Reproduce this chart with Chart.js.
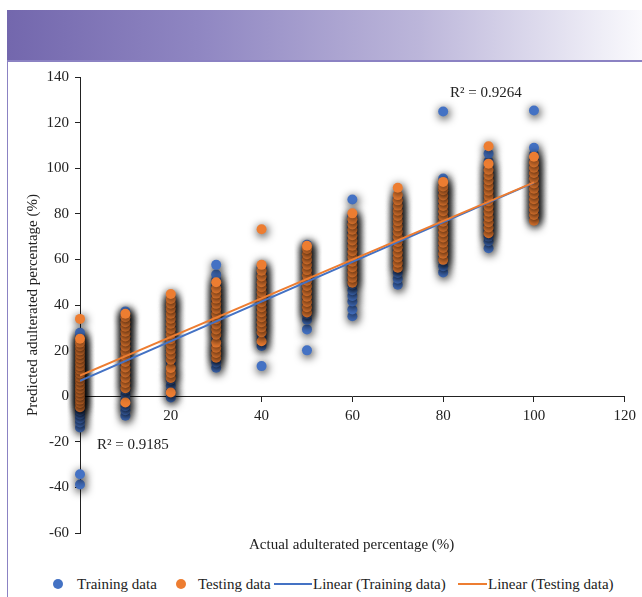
<!DOCTYPE html>
<html>
<head>
<meta charset="utf-8">
<script src="https://cdn.jsdelivr.net/npm/chart.js@4.4.1/dist/chart.umd.min.js"></script>
<style>
  body { margin: 0; width: 642px; height: 597px; position: relative; overflow: hidden; background: #fff;
         font-family: "Liberation Serif", "DejaVu Serif", serif; color: #222; }
  .abs { position: absolute; }
  #banner { left: 7px; top: 10px; width: 635px; height: 50px;
            background: linear-gradient(to right, #7367ad 0%, #8f86c2 30%, #bcb6da 65%, #fafafd 100%); }
  #rule-top { left: 7px; top: 60px; width: 635px; height: 2px; background: #8b82c3; }
  #rule-left { left: 7px; top: 60px; width: 1px; height: 537px; background: #8b82c3; }
  #wrap { left: 8px; top: 62px; width: 634px; height: 503px; }
  .txt { font-size: 15px; white-space: nowrap; line-height: 1; }
  .dot { width: 10px; height: 10px; border-radius: 50%; }
  .bar { height: 2px; }
</style>
</head>
<body>
<div id="banner" class="abs"></div>
<div id="rule-top" class="abs"></div>
<div id="rule-left" class="abs"></div>
<div id="wrap" class="abs"><canvas id="grafico"></canvas></div>

<div class="abs txt" style="left:450px; top:85px;">R² = 0.9264</div>
<div class="abs txt" style="left:97px; top:437px;">R² = 0.9185</div>
<div class="abs txt" style="left:249px; top:537px;">Actual adulterated percentage (%)</div>

<!-- legenda -->
<div class="abs dot" style="left:53px; top:579px; background:#4472c4;"></div>
<div class="abs txt" style="left:77px; top:577px;">Training data</div>
<div class="abs dot" style="left:176px; top:579px; background:#ed7d31;"></div>
<div class="abs txt" style="left:198px; top:577px;">Testing data</div>
<div class="abs bar" style="left:274px; top:583px; width:38px; background:#4472c4;"></div>
<div class="abs txt" style="left:313px; top:577px;">Linear (Training data)</div>
<div class="abs bar" style="left:458px; top:583px; width:29px; background:#ed7d31;"></div>
<div class="abs txt" style="left:488px; top:577px;">Linear (Testing data)</div>

<script>
// níveis reais de adulteração (eixo x)
const levels = [0, 10, 20, 30, 40, 50, 60, 70, 80, 90, 100];

// previsões do conjunto de treino, uma lista por nível
const train0 = [-38.7, -34.2, -13.7, -11.5, -9.8, -8, -6.5, -5, -3.6, -2.4, -1.1, 0, 1.2, 2.5, 3.7, 5, 6.4, 7.5, 8.8, 10.2, 11.6, 12.8, 14, 15.5, 17, 18.4, 20, 21.6, 23.1, 24.8, 26.4, 27.8];
const train10 = [-8.6, -6.2, -4.4, -2, 0.5, 2.8, 5.1, 7.3, 9.6, 11.8, 14, 16.3, 18.5, 20.7, 23, 25.2, 27.4, 29.6, 31.8, 34, 35.7, 37.2];
const train20 = [-0.6, 2, 4.6, 7.2, 9.8, 12.4, 15, 17.6, 20.2, 22.8, 25.4, 28, 30.6, 33.2, 35.8, 38.4, 40.5, 42.4];
const train30 = [12.5, 14.8, 17.2, 19.5, 21.8, 24, 26.3, 28.6, 30.8, 33, 35.3, 37.6, 39.8, 42, 44.3, 46.6, 48.8, 51, 53.4, 57.6];
const train40 = [13.2, 22, 24.8, 27, 29.3, 31.5, 33.8, 36, 38.3, 40.5, 42.8, 45, 47.3, 49.5, 51.8, 54, 56.5];
const train50 = [20.1, 29.3, 33.5, 36, 38.3, 40.6, 43, 45.3, 47.6, 50, 52.3, 54.6, 57, 59.3, 61.6, 64, 66.4];
const train60 = [35.1, 38, 41.5, 44, 46.5, 49, 51.5, 54, 56.5, 59, 61.5, 64, 66.5, 69, 71.5, 74, 76.5, 79, 86.3];
const train70 = [48.9, 51.5, 54, 56.5, 59, 61.5, 64, 66.5, 69, 71.5, 74, 76.5, 79, 81.5, 84, 86.9];
const train80 = [54.3, 57, 59.5, 62, 64.5, 67, 69.5, 72, 74.5, 77, 79.5, 82, 84.5, 87, 89.5, 92, 95.5, 124.9];
const train90 = [64.9, 68, 70, 72.5, 75, 77.5, 80, 82.5, 85, 87.5, 90, 92.5, 95, 97.5, 100, 103, 106.4];
const train100 = [78.8, 81, 83.5, 86, 88.5, 91, 93.5, 96, 98.5, 101, 103.5, 106, 109, 125.3];

// previsões do conjunto de teste
const test0 = [-4.8, -3, -1.5, 0.2, 1.8, 3.4, 5, 6.8, 8.3, 10, 11.6, 13.2, 15, 16.8, 18.5, 20.1, 21.9, 23.5, 25.2, 33.9];
const test10 = [-2.8, 3.5, 5.8, 8, 10.4, 12.6, 15, 17.4, 19.6, 21.8, 24, 26.2, 28.3, 30.5, 32.4, 34.6, 36.2];
const test20 = [1.6, 8, 10.2, 12.4, 16, 18.3, 20.5, 22.8, 25, 27.3, 29.5, 31.8, 34, 36.2, 38.5, 40.6, 42.6, 44.8];
const test30 = [16.9, 19, 21.3, 23.5, 27, 29.3, 31.5, 33.8, 36, 38.3, 40.5, 42.8, 45, 47.2, 50];
const test40 = [24.1, 28, 30.2, 32.4, 34.6, 36.8, 39, 41.2, 43.4, 45.6, 47.8, 50, 52.5, 55, 57.6, 73.2];
const test50 = [36.7, 39, 41.3, 43.6, 46, 48.3, 50.6, 53, 55.3, 57.6, 60, 62.3, 64.6, 66];
const test60 = [49.8, 52, 54.3, 56.6, 59, 61.3, 63.6, 66, 68.3, 70.6, 73, 75.3, 77.6, 80.2];
const test70 = [56.3, 58.5, 60.8, 63, 65.3, 67.6, 69.9, 72.2, 74.5, 76.8, 79, 81.3, 83.6, 85.9, 88.2, 91.4];
const test80 = [59.8, 62.5, 65, 67.3, 69.6, 71.9, 74.2, 76.5, 78.8, 81.1, 83.4, 85.7, 88, 90.3, 92, 94];
const test90 = [71.5, 74, 76.3, 78.6, 80.9, 83.2, 85.5, 87.8, 90.1, 92.4, 94.7, 97, 99.3, 102, 109.6];
const test100 = [77, 79.5, 81.8, 84.1, 86.4, 88.7, 91, 93.3, 95.6, 97.9, 100.2, 102.5, 105];

// retas de tendência (x = 0 e x = 100)
const fitX = [0, 100];
const trainFit = [6.7, 93.7];
const testFit = [9.0, 93.8];

const trainGroups = [train0, train10, train20, train30, train40, train50, train60, train70, train80, train90, train100];
const testGroups = [test0, test10, test20, test30, test40, test50, test60, test70, test80, test90, test100];

function montarPontos(grupos) {
  const pontos = [];
  grupos.forEach((valores, i) => {
    valores.forEach((y) => pontos.push({ x: levels[i], y }));
  });
  return pontos;
}

// sombra escura atrás dos marcadores, como no gráfico do Excel
const sombraPontos = {
  id: "sombraPontos",
  beforeDatasetDraw(chart, args) {
    if (!chart.data.datasets[args.index].sombra) return;
    const ctx = chart.ctx;
    ctx.save();
    ctx.shadowColor = "rgba(0,0,0,1)";
    ctx.shadowBlur = 10;
    ctx.shadowOffsetX = 1;
    ctx.shadowOffsetY = 2;
  },
  afterDatasetDraw(chart, args) {
    if (!chart.data.datasets[args.index].sombra) return;
    chart.ctx.restore();
  },
};

const fonte = { family: "'Liberation Serif', 'DejaVu Serif', serif", size: 15 };

new Chart(document.getElementById("grafico"), {
  type: "scatter",
  data: {
    datasets: [
      {
        label: "Training data",
        data: montarPontos(trainGroups),
        backgroundColor: "#4472c4",
        pointRadius: 5,
        pointBorderWidth: 0,
        sombra: true,
        clip: false,
        order: 4,
      },
      {
        label: "Testing data",
        data: montarPontos(testGroups),
        backgroundColor: "#ed7d31",
        pointRadius: 5,
        pointBorderWidth: 0,
        sombra: true,
        clip: false,
        order: 3,
      },
      {
        type: "line",
        label: "Linear (Training data)",
        data: fitX.map((x, i) => ({ x, y: trainFit[i] })),
        borderColor: "#4472c4",
        borderWidth: 2,
        pointRadius: 0,
        order: 2,
      },
      {
        type: "line",
        label: "Linear (Testing data)",
        data: fitX.map((x, i) => ({ x, y: testFit[i] })),
        borderColor: "#ed7d31",
        borderWidth: 2,
        pointRadius: 0,
        order: 1,
      },
    ],
  },
  options: {
    responsive: true,
    maintainAspectRatio: false,
    animation: false,
    layout: { padding: { top: 14, right: 14, bottom: 32, left: 0 } },
    plugins: { legend: { display: false }, tooltip: { enabled: false } },
    scales: {
      x: {
        type: "linear",
        min: 0,
        max: 120,
        position: { y: 0 },
        ticks: { stepSize: 20, font: fonte, color: "#222", padding: 6 },
        grid: { drawOnChartArea: false, drawTicks: true, tickLength: 5, color: "#222" },
        border: { color: "#222", width: 1 },
        afterFit: (s) => { s.height = 0; },
      },
      y: {
        min: -60,
        max: 140,
        ticks: { stepSize: 20, font: fonte, color: "#222", padding: 6 },
        grid: { drawOnChartArea: false, drawTicks: true, tickLength: 5, color: "#222" },
        border: { color: "#222", width: 1 },
        title: {
          display: true,
          text: "Predicted adulterated percentage (%)",
          font: fonte,
          color: "#222",
          padding: { top: 16, bottom: 0 },
        },
        afterFit: (s) => { s.width = 72; },
      },
    },
  },
  plugins: [sombraPontos],
});
</script>
</body>
</html>
